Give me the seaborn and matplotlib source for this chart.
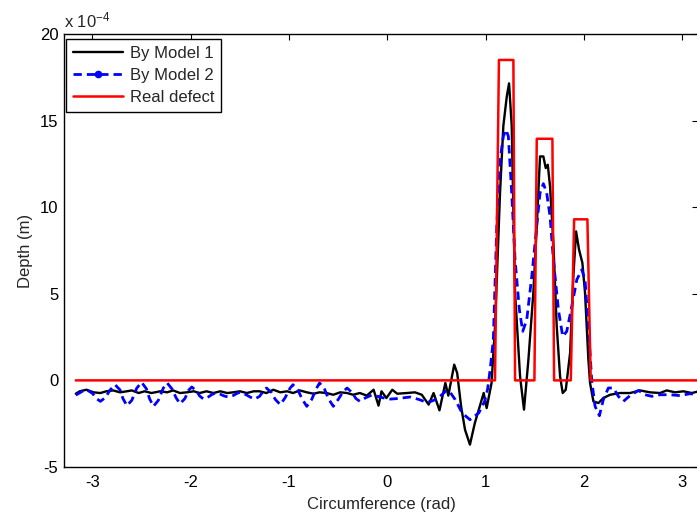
import numpy as np
import pandas as pd
import matplotlib
matplotlib.use("Agg")
import matplotlib.pyplot as plt
from matplotlib.lines import Line2D
import seaborn as sns

# Circumferential depth profiles (depth in units of 1e-4 m)
model1_x = [-3.17, -3.13, -3.06, -2.99, -2.92, -2.86, -2.79, -2.72, -2.65, -2.60,
            -2.53, -2.47, -2.40, -2.31, -2.24, -2.18, -2.11, -2.04, -1.97, -1.91,
            -1.84, -1.77, -1.70, -1.63, -1.57, -1.50, -1.43, -1.36, -1.30, -1.23,
            -1.16, -1.09, -1.02, -0.96, -0.89, -0.82, -0.75, -0.69, -0.62, -0.55,
            -0.48, -0.41, -0.35, -0.28, -0.21, -0.14, -0.09, -0.06, -0.01, 0.05,
            0.10, 0.20, 0.28, 0.35, 0.42, 0.47, 0.53, 0.59, 0.62, 0.68,
            0.71, 0.75, 0.79, 0.84, 0.89, 0.98, 1.01, 1.06, 1.096, 1.146,
            1.18, 1.215, 1.238, 1.265, 1.299, 1.35, 1.39, 1.435, 1.485, 1.52,
            1.553, 1.587, 1.611, 1.632, 1.655, 1.689, 1.723, 1.757, 1.784, 1.815,
            1.859, 1.892, 1.92, 1.95, 1.984, 2.011, 2.045, 2.062, 2.096, 2.147,
            2.197, 2.266, 2.367, 2.469, 2.571, 2.672, 2.774, 2.842, 2.927, 3.011,
            3.097, 3.17]
model1_y = [-0.77, -0.63, -0.54, -0.69, -0.73, -0.63, -0.58, -0.69, -0.63, -0.58,
            -0.73, -0.63, -0.73, -0.63, -0.69, -0.58, -0.73, -0.69, -0.63, -0.73,
            -0.63, -0.73, -0.63, -0.73, -0.69, -0.63, -0.73, -0.63, -0.63, -0.73,
            -0.54, -0.69, -0.63, -0.73, -0.58, -0.69, -0.77, -0.69, -0.73, -0.83,
            -0.69, -0.73, -0.83, -0.73, -0.88, -0.54, -1.46, -0.63, -1.02, -0.54,
            -0.77, -0.73, -0.69, -0.83, -1.40, -0.73, -1.73, -0.15, -0.88, 0.91,
            0.43, -1.50, -2.85, -3.71, -2.46, -0.73, -1.60, -0.15, 3.20, 10.80,
            14.70, 16.40, 17.15, 14.70, 5.06, 0.23, -1.69, 1.20, 5.06, 8.90,
            12.93, 12.93, 12.26, 12.45, 11.20, 7.93, 3.12, 0.23, -0.73, -0.54,
            1.58, 6.00, 8.60, 7.55, 6.78, 5.05, 1.20, -0.15, -1.21, -1.31,
            -1.02, -0.83, -0.73, -0.73, -0.58, -0.69, -0.73, -0.58, -0.69, -0.63,
            -0.73, -0.63]

model2_x = [-3.17, -3.10, -3.06, -3.00, -2.96, -2.92, -2.87, -2.82, -2.77, -2.72,
            -2.69, -2.65, -2.60, -2.55, -2.50, -2.45, -2.42, -2.38, -2.33, -2.28,
            -2.24, -2.19, -2.15, -2.11, -2.06, -2.02, -1.99, -1.94, -1.91, -1.87,
            -1.82, -1.78, -1.75, -1.70, -1.66, -1.62, -1.57, -1.53, -1.50, -1.44,
            -1.39, -1.35, -1.30, -1.26, -1.23, -1.18, -1.14, -1.09, -1.04, -0.99,
            -0.96, -0.91, -0.87, -0.82, -0.77, -0.72, -0.69, -0.64, -0.60, -0.55,
            -0.50, -0.45, -0.41, -0.36, -0.32, -0.28, -0.22, -0.16, -0.10, -0.05,
            0.03, 0.10, 0.23, 0.32, 0.40, 0.45, 0.50, 0.56, 0.60, 0.64,
            0.69, 0.76, 0.84, 0.93, 0.99, 1.02, 1.045, 1.078, 1.113, 1.146,
            1.18, 1.207, 1.231, 1.265, 1.299, 1.343, 1.377, 1.418, 1.469, 1.52,
            1.553, 1.587, 1.621, 1.655, 1.689, 1.74, 1.784, 1.825, 1.876, 1.927,
            1.978, 2.011, 2.045, 2.079, 2.113, 2.157, 2.197, 2.248, 2.299, 2.35,
            2.401, 2.469, 2.554, 2.622, 2.69, 2.774, 2.876, 2.978, 3.079, 3.17]
model2_y = [-0.85, -0.62, -0.54, -0.75, -1.05, -1.21, -1.00, -0.55, -0.25, -0.55,
            -1.05, -1.46, -1.15, -0.45, -0.11, -0.50, -1.05, -1.50, -1.15, -0.45,
            -0.15, -0.50, -1.00, -1.35, -1.05, -0.55, -0.38, -0.62, -0.90, -1.08,
            -0.95, -0.80, -0.73, -0.80, -0.90, -0.96, -0.88, -0.75, -0.69, -0.82,
            -0.98, -1.08, -0.92, -0.60, -0.44, -0.70, -1.10, -1.40, -1.00, -0.45,
            -0.25, -0.55, -1.05, -1.50, -1.10, -0.45, -0.15, -0.50, -1.05, -1.50,
            -1.10, -0.65, -0.44, -0.70, -1.05, -1.21, -1.00, -0.85, -0.92, -1.00,
            -1.08, -1.05, -0.96, -1.10, -1.27, -1.20, -1.08, -0.80, -0.58, -0.70,
            -1.11, -1.88, -2.27, -1.88, -1.21, -0.50, 0.60, 2.35, 8.90, 12.74,
            14.09, 14.47, 14.09, 10.82, 6.97, 4.08, 2.83, 3.50, 6.00, 8.90,
            10.82, 11.36, 10.82, 9.47, 6.97, 4.08, 2.54, 2.83, 4.27, 5.81,
            6.39, 5.81, 3.12, 0.00, -1.50, -2.04, -1.11, -0.44, -0.44, -0.92,
            -1.21, -0.88, -0.58, -0.83, -0.92, -0.83, -0.83, -0.88, -0.77, -0.83]

defect_x = [-3.17, 1.095, 1.135, 1.282, 1.299, 1.496, 1.52, 1.679, 1.696, 1.866,
            1.90, 2.035, 2.069, 3.17]
defect_y = [0.0, 0.0, 18.5, 18.5, 0.0, 0.0, 13.95, 13.95, 0.0, 0.0,
            9.3, 9.3, 0.0, 0.0]

series_names = ["By Model 1", "By Model 2", "Real defect"]

df1 = pd.DataFrame({"x": model1_x, "y": model1_y})
df2 = pd.DataFrame({"x": model2_x, "y": model2_y})
df3 = pd.DataFrame({"x": defect_x, "y": defect_y})

sns.set_style("white")
plt.rcParams["font.family"] = ["Liberation Sans", "DejaVu Sans"]
plt.rcParams["mathtext.fontset"] = "custom"
plt.rcParams["mathtext.rm"] = "Liberation Sans"
plt.rcParams["mathtext.it"] = "Liberation Sans"

fig = plt.figure(figsize=(6.97, 5.18), dpi=100)
ax = fig.add_axes([0.0918, 0.0985, 0.9096, 0.8359])

sns.lineplot(data=df1, x="x", y="y", ax=ax, sort=False, estimator=None,
             color="black", lw=1.7)
sns.lineplot(data=df2, x="x", y="y", ax=ax, sort=False, estimator=None,
             color="blue", lw=2.0, dashes=False)
ax.lines[-1].set_dashes((3.0, 1.8))
sns.lineplot(data=df3, x="x", y="y", ax=ax, sort=False, estimator=None,
             color="red", lw=1.8)

ax.set_xlim(-3.29, 3.16)
ax.set_ylim(-5, 20)
ax.set_xticks([-3, -2, -1, 0, 1, 2, 3])
ax.set_yticks([-5, 0, 5, 10, 15, 20])
ax.set_xticklabels(["-3", "-2", "-1", "0", "1", "2", "3"])
ax.set_yticklabels(["-5", "0", "5", "10", "15", "20"])
ax.tick_params(direction="in", length=4.3, width=0.8, top=True, right=True,
               labelsize=12, colors="black")
ax.tick_params(axis="x", pad=6)
ax.tick_params(axis="y", pad=4)
for s in ax.spines.values():
    s.set_color("black")
    s.set_linewidth(1.0)

ax.set_xlabel("Circumference (rad)", fontsize=12, labelpad=5)
ax.set_ylabel("Depth (m)", fontsize=12, labelpad=5)
ax.text(0.0, 1.008, r"x 10$^{-4}$", transform=ax.transAxes, fontsize=12,
        ha="left", va="bottom")

handles = [
    Line2D([], [], color="black", lw=1.7),
    Line2D([], [], color="blue", lw=2.0, ls=(0, (3.0, 1.8)), marker=".",
           markersize=9, markevery=[1]),
    Line2D([], [], color="red", lw=1.8),
]
leg = ax.legend(handles, series_names, loc="upper left",
                bbox_to_anchor=(0.003, 0.988), fontsize=12, frameon=True,
                fancybox=False, edgecolor="black", framealpha=1,
                handlelength=3.0, handletextpad=0.45, borderpad=0.4,
                labelspacing=0.42, borderaxespad=0)
leg.get_frame().set_linewidth(1.0)

fig.savefig("out.png", dpi=100)
